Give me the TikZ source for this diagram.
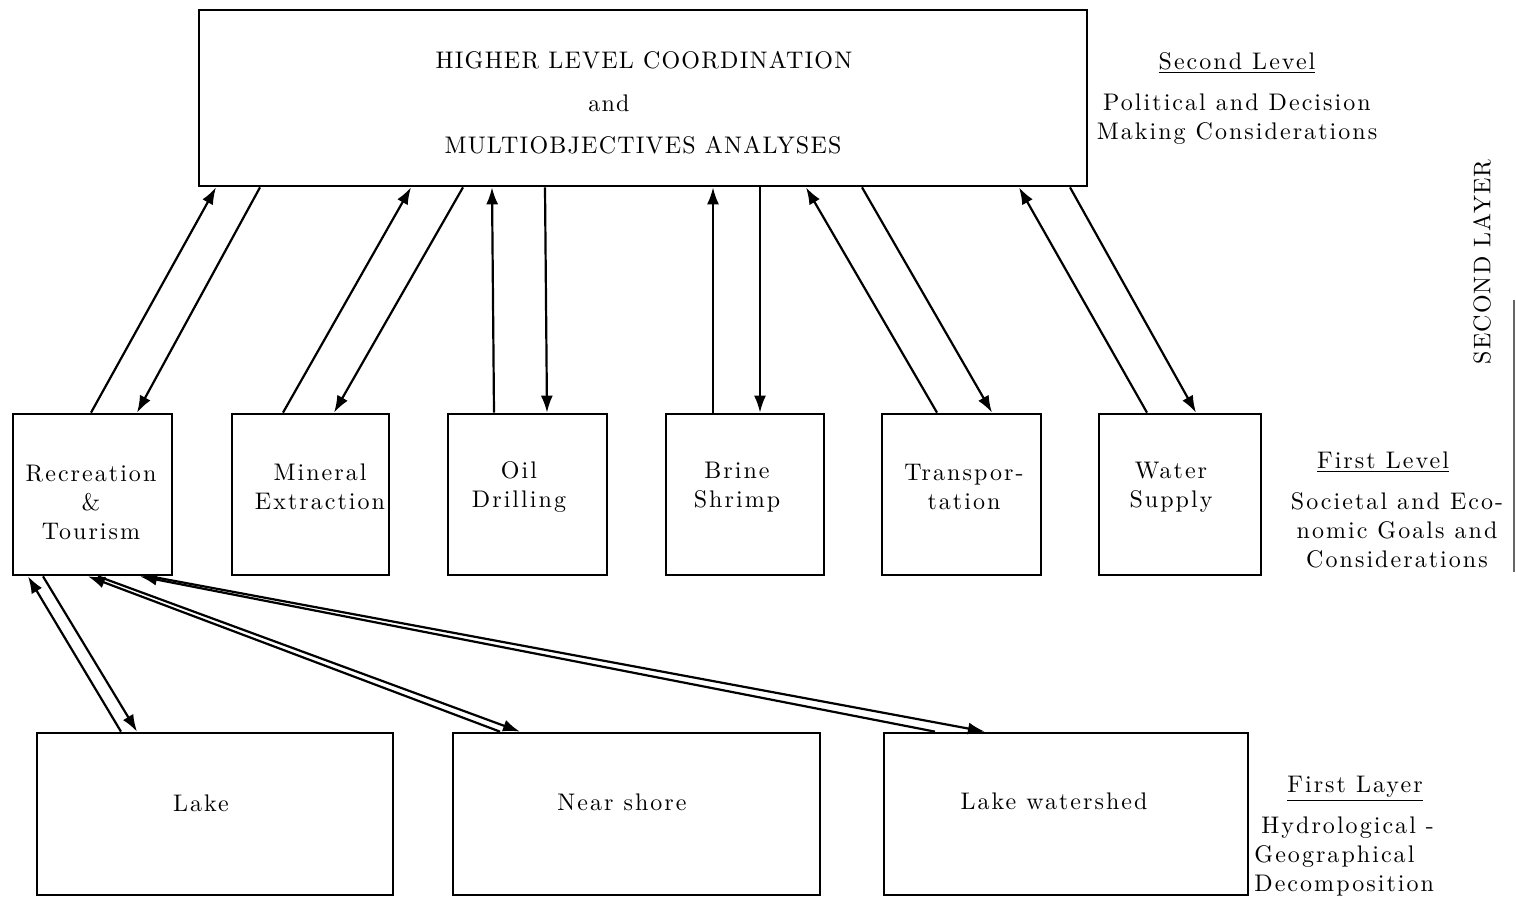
\documentclass[tikz,border=0pt]{standalone}
\usepackage{fontspec}
\newfontfamily\bodysp{lmroman10-regular.otf}[LetterSpace=8.5]
\newfontfamily\topsp{lmroman10-regular.otf}[LetterSpace=5]
\usetikzlibrary{arrows.meta}
\tikzset{
  box/.style={draw, line width=1.35pt, inner sep=0pt},
  txt/.style={font=\bodysp\fontsize{12}{14.5}\selectfont, align=center, inner sep=0pt},
  toptxt/.style={font=\topsp\fontsize{12}{14.5}\selectfont, align=center, inner sep=0pt},
  arr/.style={line width=1.1pt, -{Latex[length=8.5pt,width=6pt]}},
}
\begin{document}
\begin{tikzpicture}[x=0.5pt,y=-0.5pt]
\useasboundingbox (0,0) rectangle (1516,898);
% top box
\node[box, minimum width=444pt, minimum height=88pt] (top) at (643,98) {};
\node[toptxt] (t1) at (644,60) {HIGHER LEVEL COORDINATION};
\node[toptxt] (t2) at (609,103) {and};
\node[toptxt] (t3) at (643,145) {MULTIOBJECTIVES ANALYSES};
% first level boxes
\node[box, minimum width=79.5pt, minimum height=80.5pt] (rec) at (92.5,494.5) {};
\node[box, minimum width=78.5pt, minimum height=80.5pt] (min) at (310.5,494.5) {};
\node[box, minimum width=79.5pt, minimum height=80.5pt] (oil) at (527.5,494.5) {};
\node[box, minimum width=79pt, minimum height=80.5pt] (bri) at (745,494.5) {};
\node[box, minimum width=79.5pt, minimum height=80.5pt] (tra) at (961.5,494.5) {};
\node[box, minimum width=81pt, minimum height=80.5pt] (wat) at (1180,494.5) {};
\node[txt] (rect) at (91,502) {Recreation\\\&\\Tourism};
\node[txt] (mint) at (320,487) {Mineral\\Extraction};
\node[txt] (oilt) at (519,487) {Oil\\Drilling};
\node[txt] (brit) at (737,487) {Brine\\Shrimp};
\node[txt] (trat) at (964,487) {Transpor-\\tation};
\node[txt] (watt) at (1171,487) {Water\\Supply};
% first layer boxes
\node[box, minimum width=178pt, minimum height=81pt] (lake) at (215,814) {};
\node[box, minimum width=183.5pt, minimum height=81pt] (near) at (636.5,814) {};
\node[box, minimum width=182pt, minimum height=81pt] (shed) at (1066,814) {};
\node[txt] (laket) at (201,803) {Lake};
\node[txt] (neart) at (622,802) {Near shore};
\node[txt] (shedt) at (1054,801) {Lake watershed};
% right labels
\node[txt] (l2) at (1237,63) {\underline{Second Level}};
\node[txt] (l2d) at (1237,119) {Political and Decision\\Making Considerations};
\node[toptxt, rotate=90] (sl) at (1482,262) {SECOND LAYER};
\node[txt] (l1) at (1383,462) {\underline{First Level}};
\node[txt] (l1d) at (1397,530) {Societal and Eco-\\nomic Goals and\\Considerations};
\node[txt] (f1) at (1355,789) {\underline{First Layer}};
\node[txt, align=left, anchor=west] (f1d) at (1254,856) {\hspace{3.5pt}Hydrological -\\Geographical\\Decomposition};
\draw[line width=0.6pt, black!60] (1514,300) -- (1514,572);
% arrows second level <-> first level
\draw[arr] (91,0 |- rec.north) -- (216,0 |- top.south);
\draw[arr] (260,0 |- top.south) -- (137,0 |- rec.north);
\draw[arr] (283,0 |- min.north) -- (411,0 |- top.south);
\draw[arr] (463,0 |- top.south) -- (334,0 |- min.north);
\draw[arr] (494,0 |- oil.north) -- (492,0 |- top.south);
\draw[arr] (545,0 |- top.south) -- (547,0 |- oil.north);
\draw[arr] (713,0 |- bri.north) -- (713,0 |- top.south);
\draw[arr] (760,0 |- top.south) -- (760,0 |- bri.north);
\draw[arr] (937,0 |- tra.north) -- (806,0 |- top.south);
\draw[arr] (862,0 |- top.south) -- (992,0 |- tra.north);
\draw[arr] (1147,0 |- wat.north) -- (1019,0 |- top.south);
\draw[arr] (1070,0 |- top.south) -- (1196,0 |- wat.north);
% arrows first level <-> first layer
\draw[arr] (121,0 |- lake.north) -- (28,0 |- rec.south);
\draw[arr] (43,0 |- rec.south) -- (137,0 |- lake.north);
\draw[arr] (500,0 |- near.north) -- (88,0 |- rec.south);
\draw[arr] (98,0 |- rec.south) -- (520,0 |- near.north);
\draw[arr] (935,0 |- shed.north) -- (140,0 |- rec.south);
\draw[arr] (150,0 |- rec.south) -- (985,0 |- shed.north);
\end{tikzpicture}
\end{document}
